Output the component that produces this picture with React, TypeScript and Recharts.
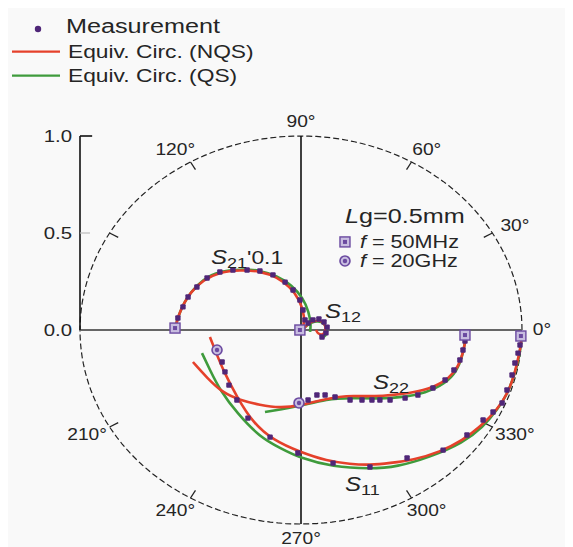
import React from 'react';
import { ComposedChart, Line, Scatter, XAxis, YAxis, ReferenceLine, ReferenceDot, Legend } from 'recharts';

// ---------- data (real / imaginary parts, normalised to the 1.0 circle) ----------
const s21NqsRe = [-0.570, -0.562, -0.548, -0.527, -0.502, -0.443, -0.367, -0.276, -0.186, -0.109, -0.050, -0.005, 0.018, 0.009];
const s21NqsIm = [0.000, 0.046, 0.093, 0.142, 0.191, 0.258, 0.299, 0.309, 0.304, 0.273, 0.222, 0.155, 0.067, 0.010];
const s21QsRe = [-0.570, -0.562, -0.548, -0.527, -0.502, -0.443, -0.367, -0.276, -0.186, -0.109, -0.041, 0.009, 0.036, 0.045, 0.041];
const s21QsIm = [0.000, 0.046, 0.093, 0.142, 0.191, 0.262, 0.304, 0.313, 0.309, 0.278, 0.232, 0.165, 0.093, 0.026, -0.010];

const s12NqsRe = [0.005, 0.018, 0.036, 0.059, 0.086, 0.109, 0.113, 0.100, 0.077, 0.068];
const s12NqsIm = [0.000, 0.015, 0.036, 0.046, 0.052, 0.031, 0.000, -0.026, -0.021, 0.000];
const s12QsRe = [0.005, 0.023, 0.050, 0.077, 0.104, 0.122, 0.113, 0.090];
const s12QsIm = [0.000, 0.021, 0.041, 0.046, 0.036, 0.000, -0.031, -0.041];

const s22NqsRe = [0.747, 0.742, 0.724, 0.697, 0.643, 0.552, 0.462, 0.371, 0.281, 0.208, 0.118, -0.005, -0.095, -0.186, -0.276, -0.353, -0.425, -0.489];
const s22NqsIm = [-0.010, -0.077, -0.155, -0.216, -0.273, -0.314, -0.330, -0.340, -0.342, -0.338, -0.353, -0.390, -0.402, -0.387, -0.361, -0.325, -0.247, -0.165];
const s22QsRe = [-0.163, -0.081, -0.005, 0.118, 0.222, 0.357, 0.471, 0.561, 0.652, 0.706, 0.729, 0.742, 0.747];
const s22QsIm = [-0.423, -0.407, -0.392, -0.355, -0.350, -0.355, -0.345, -0.325, -0.278, -0.211, -0.139, -0.067, -0.015];

const s11NqsRe = [1.000, 0.995, 0.986, 0.968, 0.937, 0.887, 0.810, 0.733, 0.629, 0.507, 0.403, 0.312, 0.222, 0.118, -0.005, -0.127, -0.217, -0.290, -0.353, -0.389, -0.412];
const s11NqsIm = [-0.015, -0.077, -0.129, -0.222, -0.325, -0.412, -0.500, -0.567, -0.629, -0.670, -0.686, -0.696, -0.691, -0.675, -0.629, -0.567, -0.479, -0.345, -0.206, -0.103, -0.036];
const s11QsRe = [1.000, 0.990, 0.968, 0.937, 0.887, 0.824, 0.733, 0.584, 0.434, 0.312, 0.145, -0.005, -0.095, -0.186, -0.290, -0.367, -0.412, -0.448];
const s11QsIm = [-0.026, -0.129, -0.222, -0.325, -0.412, -0.500, -0.582, -0.655, -0.706, -0.716, -0.706, -0.660, -0.608, -0.552, -0.428, -0.309, -0.206, -0.119];

// measurements
const m21Re = [-0.557, -0.534, -0.511, -0.471, -0.425, -0.367, -0.308, -0.244, -0.186, -0.127, -0.072, -0.036, -0.005, 0.009, 0.018];
const m21Im = [0.062, 0.119, 0.170, 0.222, 0.268, 0.299, 0.309, 0.309, 0.304, 0.284, 0.247, 0.206, 0.155, 0.103, 0.052];
const m12Re = [0.032, 0.054, 0.081, 0.104, 0.118, 0.113, 0.095];
const m12Im = [0.036, 0.052, 0.057, 0.041, 0.015, -0.015, -0.036];
const m22Re = [0.742, 0.733, 0.719, 0.692, 0.652, 0.597, 0.529, 0.471, 0.403, 0.357, 0.321, 0.276, 0.222, 0.154, 0.109, 0.072, 0.032];
const m22Im = [-0.057, -0.103, -0.155, -0.206, -0.258, -0.299, -0.335, -0.351, -0.361, -0.361, -0.361, -0.361, -0.361, -0.345, -0.335, -0.335, -0.361];
const m11Re = [0.991, 0.982, 0.968, 0.955, 0.932, 0.910, 0.869, 0.824, 0.751, 0.643, 0.480, 0.312, 0.145, -0.014, -0.140, -0.240, -0.290, -0.326, -0.344, -0.357];
const m11Im = [-0.077, -0.119, -0.170, -0.232, -0.309, -0.376, -0.423, -0.464, -0.541, -0.619, -0.660, -0.706, -0.686, -0.634, -0.552, -0.454, -0.361, -0.284, -0.216, -0.165];

// 50 MHz (square) and 20 GHz (circle) end points
const f50Re = [-0.570, -0.005, 0.742, 0.995];
const f50Im = [0.010, 0.000, -0.026, -0.031];
const f20Re = [-0.009, -0.380];
const f20Im = [-0.376, -0.103];

// axes
const yTicks = [0, 0.5, 1.0];
const angleLabels = [0, 30, 60, 90, 120, 210, 240, 270, 300, 330];
const angleTickMarks = [30, 60, 120, 150, 210, 240, 300, 330];

// ---------- styling ----------
const FONT = '"Liberation Sans", Arial, Helvetica, sans-serif';
const SX = 1.2;
const RED = '#e5412b';
const GREEN = '#3f9b3c';
const PURPLE = '#4f2678';
const TXT = '#252525';

const zip = (re: number[], im: number[]) => re.map((x, i) => ({ x, y: im[i] }));
const rad = (a: number) => (a * Math.PI) / 180;
const unitCircle = Array.from({ length: 181 }, (_, i) => ({ x: Math.cos(rad(i * 2)), y: Math.sin(rad(i * 2)) }));
// label placement radii (horizontal / vertical)
const labelRx = (a: number) => 1.09 + 0.055 * Math.abs(Math.sin(rad(a)));
const LABEL_RY = 1.075;

const STxt = ({ x, y, anchor = 'start', size = 16, children, baseline }: any) => (
  <g transform={`translate(${x},${y}) scale(${SX},1)`}>
    <text x={0} y={0} textAnchor={anchor} dominantBaseline={baseline} fontFamily={FONT} fontSize={size} fill={TXT}>
      {children}
    </text>
  </g>
);

const DotShape = (p: any) => <rect x={p.cx - 2.7} y={p.cy - 2.7} width={5.4} height={5.4} rx={1} fill={PURPLE} />;
const SquareShape = (p: any) => (
  <g>
    <rect x={p.cx - 5} y={p.cy - 5} width={10} height={10} fill="#c8bde0" stroke="#6b4aa0" strokeWidth={1.4} />
    <rect x={p.cx - 2} y={p.cy - 2} width={4} height={4} fill="#6b4aa0" />
  </g>
);
const CircleShape = (p: any) => (
  <g>
    <circle cx={p.cx} cy={p.cy} r={5} fill="#c8bde0" stroke="#6b4aa0" strokeWidth={1.6} />
    <circle cx={p.cx} cy={p.cy} r={2.2} fill="#6b4aa0" />
  </g>
);

const YTick = ({ x, y, payload }: any) => (
  <STxt x={x} y={y} anchor="end" size={17} baseline="central">{Number(payload.value).toFixed(1)}</STxt>
);

const SLabel = ({ sub, extra }: { sub: string; extra?: string }) => (
  <>
    <tspan fontStyle="italic" fontSize={20}>S</tspan>
    <tspan fontSize={15} dy={4}>{sub}</tspan>
    {extra ? <tspan fontSize={19} dy={-4}>{extra}</tspan> : null}
  </>
);

const LegendBox = () => (
  <svg width={300} height={90} style={{ display: 'block' }}>
    <circle cx={30} cy={21} r={3.2} fill={PURPLE} />
    <STxt x={58} y={25} size={21}>Measurement</STxt>
    <line x1={4} x2={52} y1={43.7} y2={43.7} stroke={RED} strokeWidth={2.2} />
    <STxt x={60} y={50} size={19}>Equiv. Circ. (NQS)</STxt>
    <line x1={4} x2={52} y1={67.7} y2={67.7} stroke={GREEN} strokeWidth={2.2} />
    <STxt x={60} y={74} size={19}>Equiv. Circ. (QS)</STxt>
  </svg>
);

export default function App() {
  const W = 565;
  const H = 539;
  return (
    <div style={{ width: W, height: H, background: '#f9f9f9' }}>
      <ComposedChart width={W} height={H} margin={{ top: 128, right: 51, bottom: 23, left: 0 }} style={{ overflow: 'visible' }}>
        <XAxis type="number" dataKey="x" domain={[-1, 1]} hide />
        <YAxis
          type="number"
          dataKey="y"
          domain={[-1, 1]}
          ticks={yTicks}
          width={72}
          axisLine={false}
          tickLine={false}
          tick={<YTick />}
          interval={0}
        />
        <Legend
          layout="horizontal"
          verticalAlign="middle"
          align="center"
          wrapperStyle={{ position: 'absolute', top: 0, left: 0, width: 300, height: 90 }}
          content={() => <LegendBox />}
        />

        {/* polar grid */}
        <Line data={unitCircle} dataKey="y" type="linear" stroke="#222" strokeWidth={1.2} strokeDasharray="6 3" dot={false} isAnimationActive={false} legendType="none" />
        <ReferenceLine y={0} stroke="#666" strokeWidth={2} ifOverflow="visible" />
        <ReferenceLine x={0} stroke="#111" strokeWidth={1.6} ifOverflow="visible" />
        <ReferenceLine segment={[{ x: -1, y: 0 }, { x: -1, y: 1 }]} stroke="#111" strokeWidth={1.6} ifOverflow="visible" />
        <ReferenceLine segment={[{ x: -1, y: 1 }, { x: -0.945, y: 1 }]} stroke="#111" strokeWidth={1.6} ifOverflow="visible" />
        <ReferenceLine segment={[{ x: -1, y: 0.5 }, { x: -0.955, y: 0.5 }]} stroke="#bbb" strokeWidth={1.2} ifOverflow="visible" />
        {angleTickMarks.map((a) => (
          <ReferenceLine
            key={'t' + a}
            segment={[
              { x: Math.cos(rad(a)), y: Math.sin(rad(a)) },
              { x: 0.955 * Math.cos(rad(a)), y: 0.955 * Math.sin(rad(a)) },
            ]}
            stroke="#222"
            strokeWidth={1.3}
            ifOverflow="visible"
          />
        ))}
        {angleLabels.map((a) => (
          <ReferenceDot
            key={'l' + a}
            x={labelRx(a) * Math.cos(rad(a))}
            y={LABEL_RY * Math.sin(rad(a))}
            r={0}
            ifOverflow="visible"
            shape={(p: any) => (
              <STxt x={p.cx} y={p.cy} anchor="middle" size={16} baseline="central">{`${a}°`}</STxt>
            )}
          />
        ))}

        {/* QS (green) under NQS (red) */}
        <Line data={zip(s21QsRe, s21QsIm)} dataKey="y" type="basis" stroke={GREEN} strokeWidth={2.6} dot={false} isAnimationActive={false} />
        <Line data={zip(s12QsRe, s12QsIm)} dataKey="y" type="basis" stroke={GREEN} strokeWidth={2.4} dot={false} isAnimationActive={false} />
        <Line data={zip(s22QsRe, s22QsIm)} dataKey="y" type="basis" stroke={GREEN} strokeWidth={2.6} dot={false} isAnimationActive={false} />
        <Line data={zip(s11QsRe, s11QsIm)} dataKey="y" type="basis" stroke={GREEN} strokeWidth={2.6} dot={false} isAnimationActive={false} />

        <Scatter data={zip(m21Re, m21Im)} shape={DotShape} isAnimationActive={false} />
        <Scatter data={zip(m12Re, m12Im)} shape={DotShape} isAnimationActive={false} />
        <Scatter data={zip(m22Re, m22Im)} shape={DotShape} isAnimationActive={false} />
        <Scatter data={zip(m11Re, m11Im)} shape={DotShape} isAnimationActive={false} />
        <Scatter data={zip(f50Re, f50Im)} shape={SquareShape} isAnimationActive={false} />
        <Scatter data={zip(f20Re, f20Im)} shape={CircleShape} isAnimationActive={false} />

        <Line data={zip(s21NqsRe, s21NqsIm)} dataKey="y" type="basis" stroke={RED} strokeWidth={2.6} dot={false} isAnimationActive={false} />
        <Line data={zip(s12NqsRe, s12NqsIm)} dataKey="y" type="basis" stroke={RED} strokeWidth={2.4} dot={false} isAnimationActive={false} />
        <Line data={zip(s22NqsRe, s22NqsIm)} dataKey="y" type="basis" stroke={RED} strokeWidth={2.6} dot={false} isAnimationActive={false} />
        <Line data={zip(s11NqsRe, s11NqsIm)} dataKey="y" type="basis" stroke={RED} strokeWidth={2.6} dot={false} isAnimationActive={false} />

        {/* annotations */}
        <ReferenceDot x={-0.407} y={0.34} r={0} ifOverflow="visible" shape={(p: any) => (
          <STxt x={p.cx} y={p.cy}><SLabel sub="21" extra="'0.1" /></STxt>
        )} />
        <ReferenceDot x={0.109} y={0.062} r={0} ifOverflow="visible" shape={(p: any) => (
          <STxt x={p.cx} y={p.cy}><SLabel sub="12" /></STxt>
        )} />
        <ReferenceDot x={0.326} y={-0.305} r={0} ifOverflow="visible" shape={(p: any) => (
          <STxt x={p.cx} y={p.cy}><SLabel sub="22" /></STxt>
        )} />
        <ReferenceDot x={0.199} y={-0.83} r={0} ifOverflow="visible" shape={(p: any) => (
          <STxt x={p.cx} y={p.cy}><SLabel sub="11" /></STxt>
        )} />
        <ReferenceDot x={0.199} y={0.552} r={0} ifOverflow="visible" shape={(p: any) => (
          <STxt x={p.cx} y={p.cy} size={21}>
            <tspan fontStyle="italic">L</tspan>
            <tspan>g=0.5mm</tspan>
          </STxt>
        )} />
        <ReferenceDot x={0.199} y={0.454} r={0} ifOverflow="visible" shape={(p: any) => (
          <g>
            <SquareShape cx={p.cx} cy={p.cy} />
            <STxt x={p.cx + 15} y={p.cy + 6} size={18}>
              <tspan fontStyle="italic">f</tspan>
              <tspan> = 50MHz</tspan>
            </STxt>
          </g>
        )} />
        <ReferenceDot x={0.199} y={0.356} r={0} ifOverflow="visible" shape={(p: any) => (
          <g>
            <CircleShape cx={p.cx} cy={p.cy} />
            <STxt x={p.cx + 15} y={p.cy + 6} size={18}>
              <tspan fontStyle="italic">f</tspan>
              <tspan> = 20GHz</tspan>
            </STxt>
          </g>
        )} />
      </ComposedChart>
    </div>
  );
}
